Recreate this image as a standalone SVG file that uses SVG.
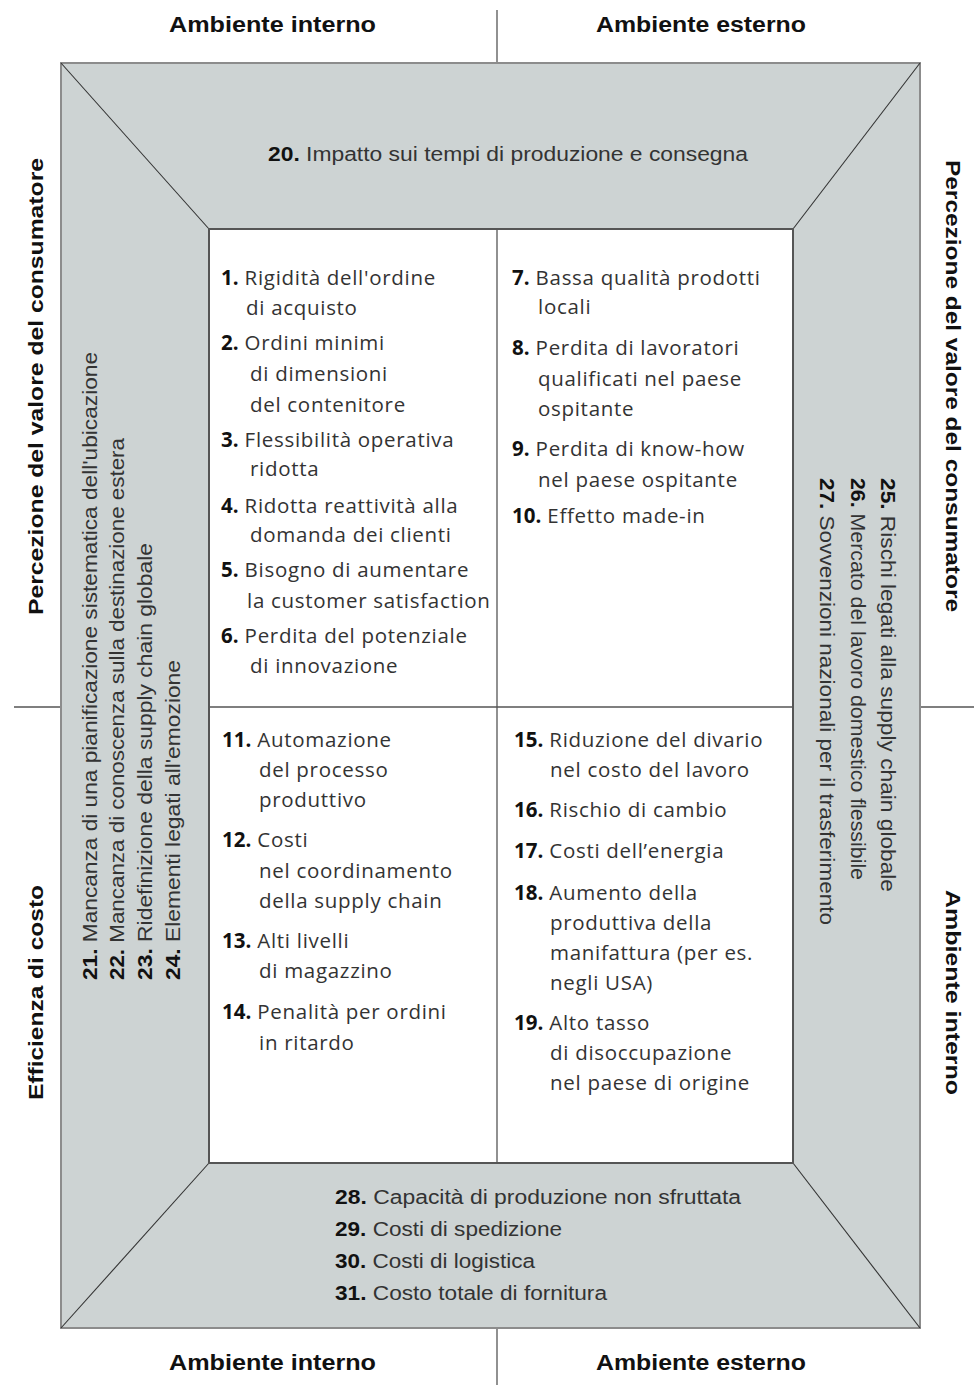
<svg xmlns="http://www.w3.org/2000/svg" width="974" height="1385" viewBox="0 0 974 1385">
<style>
.ax{stroke:#555;stroke-width:1.3;fill:none}
.diag{stroke:#333;stroke-width:1.1;fill:none}
.title{font-family:"Liberation Sans Narrow","Liberation Sans",Arial,sans-serif;font-weight:bold;font-size:22px;fill:#111}
.side{font-family:"Liberation Sans",Arial,sans-serif;font-weight:bold;font-size:21px;fill:#111}
.cond{font-family:"Liberation Sans Narrow","Liberation Sans",Arial,sans-serif;font-size:20px;fill:#333}
.cell{font-family:"Open Sans",Lato,sans-serif;font-size:20.5px;letter-spacing:0.7px;fill:#333}
.n{font-weight:bold;fill:#111;letter-spacing:0}
</style>
<rect width="974" height="1385" fill="#fff"/>
<g id="connectors">
<line class="ax" x1="497" y1="10" x2="497" y2="63"/>
<line class="ax" x1="497" y1="1328" x2="497" y2="1385"/>
<line class="ax" x1="14" y1="707" x2="61" y2="707"/>
<line class="ax" x1="920" y1="707" x2="974" y2="707"/>
</g>
<g id="frame">
<rect x="61" y="63" width="859" height="1265" fill="#cdd3d3" stroke="#8c8c8c" stroke-width="2"/>
<line class="diag" x1="61" y1="63" x2="209" y2="229"/>
<line class="diag" x1="920" y1="63" x2="793" y2="229"/>
<line class="diag" x1="61" y1="1328" x2="209" y2="1163"/>
<line class="diag" x1="920" y1="1328" x2="793" y2="1163"/>
<rect x="209" y="229" width="584" height="934" fill="#fff" stroke="#555" stroke-width="2"/>
<line class="ax" x1="497" y1="229" x2="497" y2="1163"/>
<line class="ax" x1="209" y1="707" x2="793" y2="707"/>
</g>
<g id="title-top-left"><text class="title" x="169" y="32" textLength="207" lengthAdjust="spacingAndGlyphs">Ambiente interno</text></g>
<g id="title-top-right"><text class="title" x="596" y="32" textLength="210" lengthAdjust="spacingAndGlyphs">Ambiente esterno</text></g>
<g id="title-bottom-left"><text class="title" x="169" y="1370" textLength="207" lengthAdjust="spacingAndGlyphs">Ambiente interno</text></g>
<g id="title-bottom-right"><text class="title" x="596" y="1370" textLength="210" lengthAdjust="spacingAndGlyphs">Ambiente esterno</text></g>
<g id="title-left-top"><text class="side" transform="translate(43,615) rotate(-90)" textLength="457" lengthAdjust="spacingAndGlyphs">Percezione del valore del consumatore</text></g>
<g id="title-left-bottom"><text class="side" transform="translate(43,1100) rotate(-90)" textLength="215" lengthAdjust="spacingAndGlyphs">Efficienza di costo</text></g>
<g id="title-right-top"><text class="side" transform="translate(946,160) rotate(90)" textLength="452" lengthAdjust="spacingAndGlyphs">Percezione del valore del consumatore</text></g>
<g id="title-right-bottom"><text class="side" transform="translate(946,890) rotate(90)" textLength="205" lengthAdjust="spacingAndGlyphs">Ambiente interno</text></g>
<g id="panel-top"><text class="cond" x="268" y="161" textLength="480" lengthAdjust="spacingAndGlyphs"><tspan class="n">20.</tspan> Impatto sui tempi di produzione e consegna</text></g>
<g id="panel-left">
<text class="cond" transform="translate(97,980) rotate(-90)" textLength="628" lengthAdjust="spacingAndGlyphs"><tspan class="n">21.</tspan> Mancanza di una pianificazione sistematica dell'ubicazione</text>
<text class="cond" transform="translate(124,980) rotate(-90)" textLength="542" lengthAdjust="spacingAndGlyphs"><tspan class="n">22.</tspan> Mancanza di conoscenza sulla destinazione estera</text>
<text class="cond" transform="translate(152,980) rotate(-90)" textLength="437" lengthAdjust="spacingAndGlyphs"><tspan class="n">23.</tspan> Ridefinizione della supply chain globale</text>
<text class="cond" transform="translate(180,980) rotate(-90)" textLength="320" lengthAdjust="spacingAndGlyphs"><tspan class="n">24.</tspan> Elementi legati all'emozione</text>
</g>
<g id="panel-right">
<text class="cond" transform="translate(881,478) rotate(90)" textLength="414" lengthAdjust="spacingAndGlyphs"><tspan class="n">25.</tspan> Rischi legati alla supply chain globale</text>
<text class="cond" transform="translate(851,478) rotate(90)" textLength="402" lengthAdjust="spacingAndGlyphs"><tspan class="n">26.</tspan> Mercato del lavoro domestico flessibile</text>
<text class="cond" transform="translate(820,478) rotate(90)" textLength="447" lengthAdjust="spacingAndGlyphs"><tspan class="n">27.</tspan> Sovvenzioni nazionali per il trasferimento</text>
</g>
<g id="panel-bottom">
<text class="cond" x="335" y="1204" textLength="406" lengthAdjust="spacingAndGlyphs"><tspan class="n">28.</tspan> Capacità di produzione non sfruttata</text>
<text class="cond" x="335" y="1236" textLength="227" lengthAdjust="spacingAndGlyphs"><tspan class="n">29.</tspan> Costi di spedizione</text>
<text class="cond" x="335" y="1268" textLength="200" lengthAdjust="spacingAndGlyphs"><tspan class="n">30.</tspan> Costi di logistica</text>
<text class="cond" x="335" y="1300" textLength="272" lengthAdjust="spacingAndGlyphs"><tspan class="n">31.</tspan> Costo totale di fornitura</text>
</g>
<g id="quadrant-1">
<text class="cell" x="221" y="285"><tspan class="n">1.</tspan> Rigidità dell'ordine</text>
<text class="cell" x="246" y="315">di acquisto</text>
<text class="cell" x="221" y="350"><tspan class="n">2.</tspan> Ordini minimi</text>
<text class="cell" x="250" y="381">di dimensioni</text>
<text class="cell" x="250" y="412">del contenitore</text>
<text class="cell" x="221" y="447"><tspan class="n">3.</tspan> Flessibilità operativa</text>
<text class="cell" x="250" y="476">ridotta</text>
<text class="cell" x="221" y="513"><tspan class="n">4.</tspan> Ridotta reattività alla</text>
<text class="cell" x="250" y="542">domanda dei clienti</text>
<text class="cell" x="221" y="577"><tspan class="n">5.</tspan> Bisogno di aumentare</text>
<text class="cell" x="247" y="608">la customer satisfaction</text>
<text class="cell" x="221" y="643"><tspan class="n">6.</tspan> Perdita del potenziale</text>
<text class="cell" x="250" y="673">di innovazione</text>
</g>
<g id="quadrant-2">
<text class="cell" x="512" y="285"><tspan class="n">7.</tspan> Bassa qualità prodotti</text>
<text class="cell" x="538" y="314">locali</text>
<text class="cell" x="512" y="355"><tspan class="n">8.</tspan> Perdita di lavoratori</text>
<text class="cell" x="538" y="386">qualificati nel paese</text>
<text class="cell" x="538" y="416">ospitante</text>
<text class="cell" x="512" y="456"><tspan class="n">9.</tspan> Perdita di know-how</text>
<text class="cell" x="538" y="487">nel paese ospitante</text>
<text class="cell" x="512" y="523"><tspan class="n">10.</tspan> Effetto made-in</text>
</g>
<g id="quadrant-3">
<text class="cell" x="222" y="747"><tspan class="n">11.</tspan> Automazione</text>
<text class="cell" x="259" y="777">del processo</text>
<text class="cell" x="259" y="807">produttivo</text>
<text class="cell" x="222" y="847"><tspan class="n">12.</tspan> Costi</text>
<text class="cell" x="259" y="878">nel coordinamento</text>
<text class="cell" x="259" y="908">della supply chain</text>
<text class="cell" x="222" y="948"><tspan class="n">13.</tspan> Alti livelli</text>
<text class="cell" x="259" y="978">di magazzino</text>
<text class="cell" x="222" y="1019"><tspan class="n">14.</tspan> Penalità per ordini</text>
<text class="cell" x="259" y="1050">in ritardo</text>
</g>
<g id="quadrant-4">
<text class="cell" x="514" y="747"><tspan class="n">15.</tspan> Riduzione del divario</text>
<text class="cell" x="550" y="777">nel costo del lavoro</text>
<text class="cell" x="514" y="817"><tspan class="n">16.</tspan> Rischio di cambio</text>
<text class="cell" x="514" y="858"><tspan class="n">17.</tspan> Costi dell’energia</text>
<text class="cell" x="514" y="900"><tspan class="n">18.</tspan> Aumento della</text>
<text class="cell" x="550" y="930">produttiva della</text>
<text class="cell" x="550" y="960">manifattura (per es.</text>
<text class="cell" x="550" y="990">negli USA)</text>
<text class="cell" x="514" y="1030"><tspan class="n">19.</tspan> Alto tasso</text>
<text class="cell" x="550" y="1060">di disoccupazione</text>
<text class="cell" x="550" y="1090">nel paese di origine</text>
</g>
</svg>
